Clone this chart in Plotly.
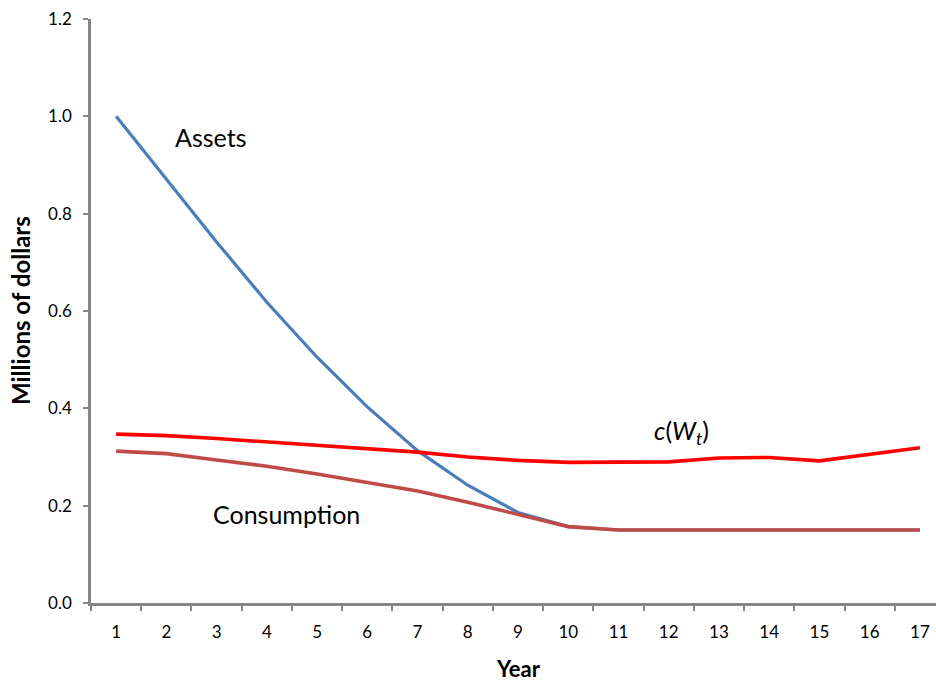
import plotly.graph_objects as go

years = [str(i) for i in range(1, 18)]
assets = [1.0, 0.87, 0.742, 0.618, 0.505, 0.403, 0.313, 0.242, 0.186, 0.157, 0.150, 0.150, 0.150, 0.150, 0.150, 0.150, 0.150]
c_w = [0.347, 0.344, 0.338, 0.331, 0.324, 0.317, 0.310, 0.300, 0.293, 0.289, 0.289, 0.290, 0.298, 0.299, 0.292, 0.305, 0.319]
consumption = [0.312, 0.307, 0.294, 0.281, 0.265, 0.248, 0.230, 0.207, 0.182, 0.157, 0.150, 0.150, 0.150, 0.150, 0.150, 0.150, 0.150]
y_ticks = [0.0, 0.2, 0.4, 0.6, 0.8, 1.0, 1.2]

FONT = "Lato, Open Sans, sans-serif"
L, R, T, B, W, H = 91, 0, 19, 79, 936, 682

fig = go.Figure()
fig.add_trace(go.Scatter(x=years, y=assets, mode="lines", line=dict(color="#4A7EBB", width=3.2), showlegend=False))
fig.add_trace(go.Scatter(x=years, y=c_w, mode="lines", line=dict(color="#FF0000", width=3.6), showlegend=False))
fig.add_trace(go.Scatter(x=years, y=consumption, mode="lines", line=dict(color="#BE4B48", width=3.6), showlegend=False))

fig.add_annotation(x=1.87, y=0.957, xref="x", yref="y", text="Assets", showarrow=False,
                   font=dict(family=FONT, size=25, color="black"))
fig.add_annotation(x=3.4, y=0.183, xref="x", yref="y", text="Consumption", showarrow=False,
                   font=dict(family=FONT, size=25, color="black"))
fig.add_annotation(x=11.26, y=0.352, xref="x", yref="y", text="<i>c</i>(<i>W<sub>t</sub></i>)", showarrow=False,
                   font=dict(family=FONT, size=25, color="black"))

# axis titles
fig.add_annotation(x=(518 - L) / (W - L - R), y=-(668 - (H - B)) / (H - T - B), xref="paper", yref="paper",
                   xanchor="center", yanchor="middle",
                   text="<b>Year</b>", showarrow=False, font=dict(family=FONT, size=22, color="black"))
fig.add_annotation(x=-(L - 20) / (W - L - R), y=((H - B) - 311) / (H - T - B), xref="paper", yref="paper",
                   xanchor="center", yanchor="middle",
                   text="<b>Millions of dollars</b>", textangle=-90, showarrow=False,
                   font=dict(family=FONT, size=24, color="black"))

fig.update_layout(
    width=W, height=H,
    margin=dict(l=L, r=R, t=T, b=B, autoexpand=False),
    paper_bgcolor="white", plot_bgcolor="white",
    font=dict(family=FONT, size=16, color="black"),
)
fig.update_xaxes(
    type="category", range=[-0.5, 16.32], tickson="boundaries", automargin=False,
    ticks="outside", ticklen=5, tickwidth=2, tickcolor="#868686",
    showline=True, linecolor="#868686", linewidth=2.5, showgrid=False,
    tickfont=dict(family=FONT, size=17), ticklabelstandoff=12,
)
fig.update_yaxes(
    range=[0, 1.2], tickvals=y_ticks, tickformat=".1f", automargin=False,
    ticks="outside", ticklen=5, tickwidth=2, tickcolor="#868686",
    showline=True, linecolor="#868686", linewidth=2.5, showgrid=False, zeroline=False,
    tickfont=dict(family=FONT, size=17), ticklabelstandoff=8,
)

fig.write_html("out.html", config={"displayModeBar": False},
               post_script="document.body.style.margin='0';document.body.style.overflow='hidden';")
